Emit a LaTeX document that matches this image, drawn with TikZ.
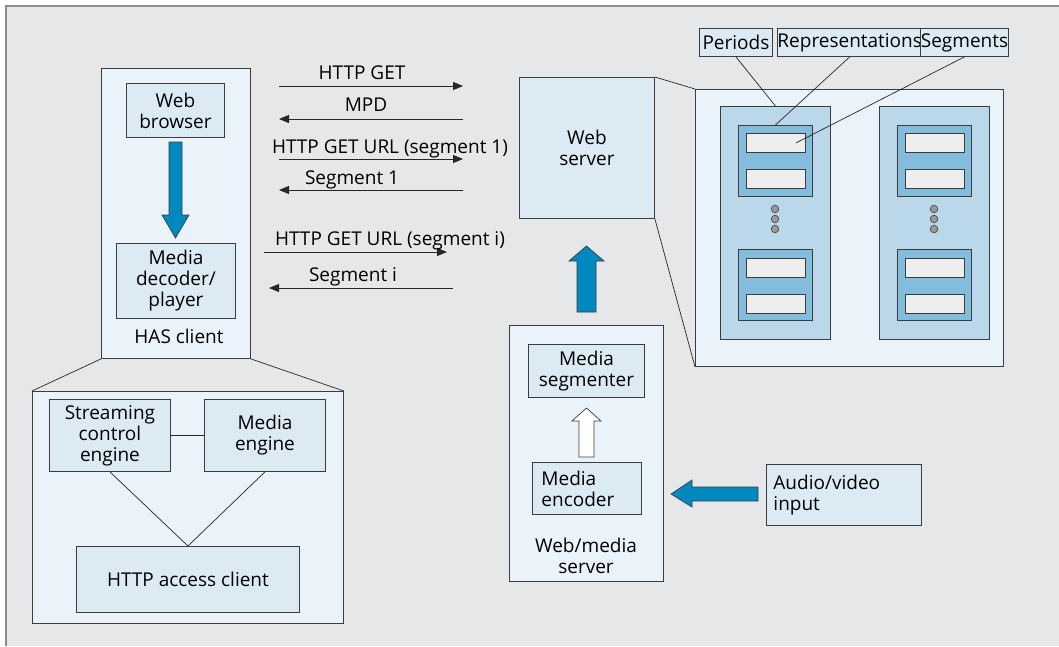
\documentclass[tikz,border=0pt]{standalone}
\usepackage{fontspec}
\setmainfont{Open Sans}
\usetikzlibrary{arrows.meta, positioning, calc}

\definecolor{bggray}{HTML}{E6E7E8}
\definecolor{framegray}{HTML}{8C8C8C}
\definecolor{boxline}{HTML}{3C3C3C}
\definecolor{paleblue}{HTML}{EBF3FA}
\definecolor{lightblue}{HTML}{DCEAF4}
\definecolor{periodblue}{HTML}{BBD8EA}
\definecolor{reprblue}{HTML}{84BCDB}
\definecolor{seggray}{HTML}{EEEEEE}
\definecolor{arrowblue}{HTML}{0089BF}

\begin{document}
\begin{tikzpicture}[x=1pt, y=-1pt,
    font=\fontsize{19}{21}\selectfont,
    outerbox/.style={draw=boxline, line width=0.9pt, fill=paleblue, inner sep=0pt, anchor=north west},
    innerbox/.style={draw=boxline, line width=0.9pt, fill=lightblue, inner sep=0pt, align=center, anchor=north west},
    periodbox/.style={draw=boxline, line width=0.9pt, fill=periodblue, inner sep=0pt, anchor=north west, minimum width=110, minimum height=233},
    reprbox/.style={draw=boxline, line width=0.9pt, fill=reprblue, inner sep=0pt, anchor=north west, minimum width=74, minimum height=71},
    segbox/.style={draw=boxline, line width=0.9pt, fill=seggray, inner sep=0pt, anchor=north west, minimum width=59, minimum height=19},
    msg/.style={-{Triangle[length=10pt, width=8pt]}, line width=0.9pt, draw=black!85},
    msglabel/.style={anchor=base, inner sep=0pt},
    thinline/.style={line width=0.7pt, draw=black!85},
    blockarrow/.style={fill=arrowblue, draw=boxline, line width=0.7pt}]

    % background and frame
    \useasboundingbox (0,0) rectangle (1059,646);
    \fill[bggray] (6,6) rectangle (1059,646);
    \draw[framegray, line width=1.6pt] (6,646) -- (6,6) -- (1059,6);

    % HAS client
    \node[outerbox, minimum width=149, minimum height=290] (has) at (101,68) {};
    \node[innerbox, minimum width=98, minimum height=54] (web) at (126,83) {Web\\browser};
    \node[innerbox, minimum width=119, minimum height=75] (dec) at (116,243) {Media\\decoder/\\player};
    \node[msglabel] (haslabel) at (179,343) {HAS client};
    \filldraw[blockarrow] (169,142) -- (182,142) -- (182,215) -- (189,215) -- (175.5,238)
        -- (162,215) -- (169,215) -- cycle;

    % HAS client in detail
    \node[outerbox, minimum width=311, minimum height=232] (hasd) at (32,391) {};
    \node[innerbox, minimum width=121, minimum height=72] (sce) at (49,399) {Streaming\\control\\engine};
    \node[innerbox, minimum width=121, minimum height=72] (me) at (204,399) {Media\\engine};
    \node[innerbox, minimum width=223, minimum height=66] (hac) at (76,546) {HTTP access client};
    \draw[thinline] (has.south west) -- (hasd.north west);
    \draw[thinline] (has.south east) -- (hasd.north east);
    \draw[thinline] (sce.east) -- (me.west);
    \draw[thinline] (sce.south) -- (hac.north);
    \draw[thinline] (me.south) -- (hac.north);

    % HTTP messages
    \coordinate (getL) at (279,86);   \coordinate (getR) at (463,86);
    \coordinate (mpdL) at (279,119);  \coordinate (mpdR) at (463,119);
    \coordinate (reqaL) at (279,159); \coordinate (reqaR) at (463,159);
    \coordinate (segaL) at (279,190); \coordinate (segaR) at (463,190);
    \coordinate (reqiL) at (264,252); \coordinate (reqiR) at (447,252);
    \coordinate (segiL) at (269,288); \coordinate (segiR) at (453,288);
    \draw[msg] (getL) -- (getR);
    \draw[msg] (mpdR) -- (mpdL);
    \draw[msg] (reqaL) -- (reqaR);
    \draw[msg] (segaR) -- (segaL);
    \draw[msg] (reqiL) -- (reqiR);
    \draw[msg] (segiR) -- (segiL);
    \node[msglabel] (getlabel) at (362,79) {HTTP GET};
    \node[msglabel] (mpdlabel) at (366,111) {MPD};
    \node[msglabel] (reqalabel) at (390,153) {HTTP GET URL (segment 1)};
    \node[msglabel] (segalabel) at (352,184) {Segment 1};
    \node[msglabel] (reqilabel) at (390,245) {HTTP GET URL (segment i)};
    \node[msglabel] (segilabel) at (353,281) {Segment i};

    % web server and media store
    \node[innerbox, minimum width=135, minimum height=141] (ws) at (519,77) {Web\\server};
    \node[outerbox, minimum width=308, minimum height=277] (store) at (695,89) {};
    \draw[thinline] (ws.north east) -- (store.north west);
    \draw[thinline] (ws.south east) -- (store.south west);
    \foreach \cx/\nm in {720/pa, 879/pb} {
        \node[periodbox] (\nm) at (\cx,106) {};
        \node[reprbox] (\nm-r1) at (\cx+18,125) {};
        \node[reprbox] (\nm-r2) at (\cx+18,249) {};
        \node[segbox] (\nm-r1-s1) at (\cx+26,133) {};
        \node[segbox] (\nm-r1-s2) at (\cx+26,169) {};
        \node[segbox] (\nm-r2-s1) at (\cx+26,258) {};
        \node[segbox] (\nm-r2-s2) at (\cx+26,294) {};
        \foreach \dy in {209,219,229}
            \filldraw[fill=black!40, draw=boxline, line width=0.6pt] (\cx+55,\dy) circle[radius=3.8pt];
    }

    % hierarchy labels
    \node[innerbox, minimum width=73, minimum height=28] (periods) at (699,28) {Periods};
    \node[innerbox, minimum width=138, minimum height=28] (reprs) at (777,28) {Representations};
    \node[innerbox, minimum width=88, minimum height=28] (segs) at (920,28) {Segments};
    \draw[thinline] (periods.south) -- (pa.north);
    \draw[thinline] (reprs.south) -- (pa-r1.north);
    \draw[thinline] (segs.south) -- ($(pa-r1-s1.east)+(-10,0)$);

    % web/media server
    \node[outerbox, minimum width=154, minimum height=256] (wms) at (509,325) {};
    \node[innerbox, minimum width=116, minimum height=53] (segm) at (528,344) {Media\\segmenter};
    \node[innerbox, minimum width=109, minimum height=52, text width=91, align=left] (enc) at (532,462) {Media\\encoder};
    \node[inner sep=0pt, align=center] (wmslabel) at (586,556) {Web/media\\server};
    \filldraw[fill=white, draw=boxline, line width=0.7pt] (579,457) -- (594,457) -- (594,421) -- (601,421)
        -- (586.5,408) -- (572,421) -- (579,421) -- cycle;
    \filldraw[blockarrow] (577,312) -- (596,312) -- (596,261) -- (604,261) -- (586.5,246)
        -- (569,261) -- (577,261) -- cycle;

    % audio/video input
    \node[innerbox, minimum width=155, minimum height=61, text width=141, align=left] (av) at (766,464) {Audio/video\\input};
    \filldraw[blockarrow] (758,487) -- (692,487) -- (692,480) -- (671,494) -- (692,507)
        -- (692,501) -- (758,501) -- cycle;
\end{tikzpicture}
\end{document}
